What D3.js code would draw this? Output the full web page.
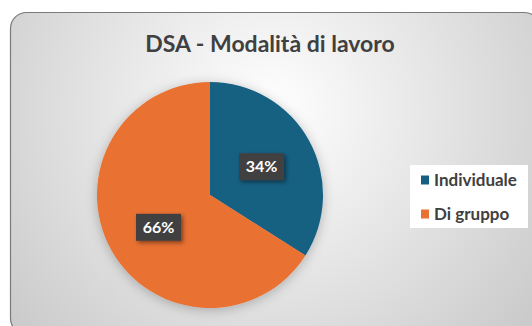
<!DOCTYPE html>
<html><head><meta charset="utf-8">
<script src="https://cdn.jsdelivr.net/npm/d3@7"></script>
<style>html,body{margin:0;padding:0;background:#fff;overflow:hidden}</style>
</head><body>
<script>
const title = "DSA - Modalità di lavoro";
const categories = ["Individuale", "Di gruppo"];
const values = [34, 66];
const labels = ["34%", "66%"];
const colors = ["#156082", "#E97132"];

const W = 532, H = 326;
const svg = d3.select("body").append("svg").attr("width", W).attr("height", H);
const defs = svg.append("defs");
const rg = defs.append("radialGradient").attr("id", "bg")
  .attr("gradientUnits", "userSpaceOnUse").attr("cx", 270).attr("cy", 110).attr("r", 330);
rg.append("stop").attr("offset", "0%").attr("stop-color", "#ffffff");
rg.append("stop").attr("offset", "45%").attr("stop-color", "#e8e8e8");
rg.append("stop").attr("offset", "100%").attr("stop-color", "#cbcbcb");

const sh = defs.append("filter").attr("id", "sh").attr("x", "-30%").attr("y", "-30%").attr("width", "160%").attr("height", "160%");
sh.append("feDropShadow").attr("dx", 0).attr("dy", 2).attr("stdDeviation", 6).attr("flood-color", "#000").attr("flood-opacity", 0.25);
const sh2 = defs.append("filter").attr("id", "sh2").attr("x", "-30%").attr("y", "-30%").attr("width", "160%").attr("height", "160%");
sh2.append("feDropShadow").attr("dx", 2).attr("dy", 2).attr("stdDeviation", 2).attr("flood-color", "#000").attr("flood-opacity", 0.45);

svg.append("rect").attr("x", 10.5).attr("y", 12.5).attr("width", 530).attr("height", 322)
  .attr("rx", 16).attr("fill", "url(#bg)").attr("stroke", "#7a7a7a").attr("stroke-width", 1.2);

svg.append("text").attr("x", 270).attr("y", 52).attr("text-anchor", "middle")
  .attr("font-family", "Lato, 'Noto Sans', sans-serif").attr("font-weight", 700)
  .attr("font-size", 23).attr("fill", "#404040").text(title);

const cx = 210, cy = 195, r = 113;
const pie = d3.pie().sort(null).value(d => d);
const arcs = pie(values);
const arc = d3.arc().innerRadius(0).outerRadius(r);
const g = svg.append("g").attr("transform", `translate(${cx},${cy})`);
g.append("g").attr("filter", "url(#sh)").selectAll("path").data(arcs).join("path")
  .attr("d", arc).attr("fill", (d, i) => colors[i]);

const labelArc = d3.arc().innerRadius(r * 0.52).outerRadius(r * 0.52);
const lg = g.selectAll("g.lab").data(arcs).join("g").attr("class", "lab")
  .attr("transform", (d, i) => { const c = labelArc.centroid(d); return `translate(${c[0]},${c[1] + (i === 1 ? 4 : 0)})`; });
lg.append("rect").attr("x", -22.5).attr("y", -13.5).attr("width", 45).attr("height", 27)
  .attr("fill", "#404040").attr("filter", "url(#sh2)");
lg.append("text").attr("text-anchor", "middle").attr("dy", "0.36em")
  .attr("font-family", "Lato, 'Noto Sans', sans-serif").attr("font-weight", 700)
  .attr("font-size", 16).attr("fill", "#fff").text((d, i) => labels[i]);

const leg = svg.append("g");
leg.append("rect").attr("x", 410).attr("y", 165).attr("width", 118).attr("height", 63).attr("fill", "#fff");
const li = leg.selectAll("g.li").data(categories).join("g").attr("class", "li")
  .attr("transform", (d, i) => `translate(421,${180 + i * 34})`);
li.append("rect").attr("x", 0).attr("y", -4.5).attr("width", 8).attr("height", 9).attr("fill", (d, i) => colors[i]);
li.append("text").attr("x", 13).attr("dy", "0.36em")
  .attr("font-family", "Lato, 'Noto Sans', sans-serif").attr("font-weight", 700)
  .attr("font-size", 17).attr("fill", "#404040").text(d => d);
</script>
</body></html>
